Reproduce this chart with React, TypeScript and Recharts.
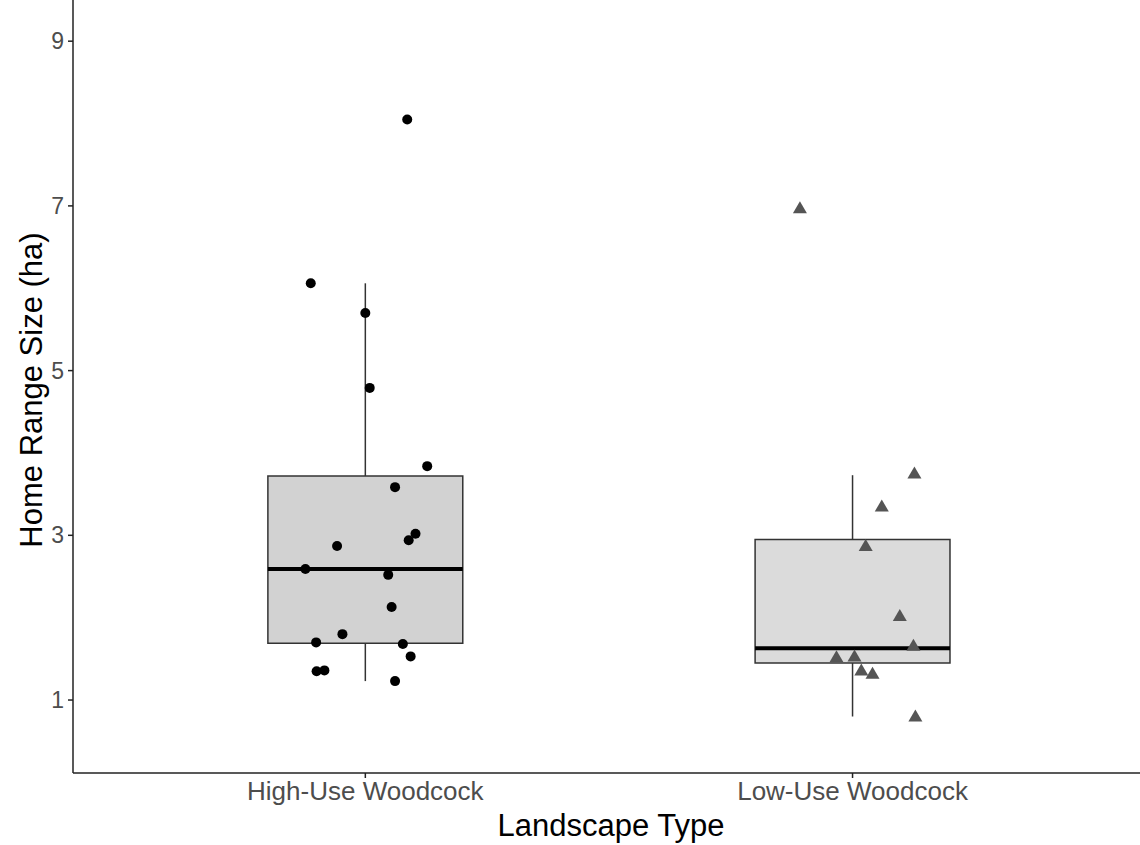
import React from "react"
import { ComposedChart, Scatter, XAxis, YAxis, ReferenceArea, ReferenceLine, Label } from "recharts"

// categories and tick labels
const categories = ["High-Use Woodcock", "Low-Use Woodcock"]
const yTicks = [1, 3, 5, 7, 9]

// jittered observations (x = category position + jitter, y = home range ha)
const highUseX = [1.086, 0.888, 1.0, 1.009, 1.127, 1.061, 1.103, 1.089, 0.942, 0.877, 1.047, 1.054, 0.953, 0.899, 1.077, 1.093, 0.9, 0.916, 1.061]
const highUseY = [8.05, 6.06, 5.7, 4.79, 3.84, 3.585, 3.02, 2.94, 2.87, 2.59, 2.52, 2.13, 1.8, 1.7, 1.68, 1.53, 1.35, 1.36, 1.23]
const lowUseX = [1.892, 2.127, 2.06, 2.027, 2.097, 2.125, 1.967, 2.004, 2.018, 2.041, 2.129]
const lowUseY = [6.97, 3.75, 3.35, 2.87, 2.02, 1.66, 1.52, 1.53, 1.36, 1.32, 0.8]

// boxplot stats per category
const boxQ1 = [1.69, 1.45]
const boxMedian = [2.59, 1.63]
const boxQ3 = [3.72, 2.95]
const whiskerLow = [1.23, 0.8]
const whiskerHigh = [6.06, 3.73]
const boxFill = ["#d2d2d2", "#dbdbdb"]
const boxHalf = 0.2

const highPts = highUseX.map((x, i) => ({ x, y: highUseY[i] }))
const lowPts = lowUseX.map((x, i) => ({ x, y: lowUseY[i] }))

const FONT = "'Liberation Sans', Arial, sans-serif"
const AXIS = "#222"
const BOX_LINE = "#333"

const Dot = (p: any) => <circle cx={p.cx} cy={p.cy} r={5} fill="#000" />
const Tri = (p: any) => (
  <polygon
    points={`${p.cx},${p.cy - 7} ${p.cx + 7},${p.cy + 5} ${p.cx - 7},${p.cy + 5}`}
    fill="#555"
  />
)

const XTick = ({ x, y, payload }: any) => (
  <text x={x} y={y + 22} textAnchor="middle" fontSize={26} fill="#4d4d4d" fontFamily={FONT}>
    {categories[payload.value - 1]}
  </text>
)

const YTick = ({ x, y, payload }: any) => (
  <text x={x} y={y + 8} textAnchor="end" fontSize={23} fill="#4d4d4d" fontFamily={FONT}>
    {payload.value}
  </text>
)

export default function App() {
  return (
    <div style={{ width: 1140, height: 845, background: "#fff" }}>
      <style>{`body{margin:0}`}</style>
      <ComposedChart width={1140} height={845} margin={{ top: 0, right: 0, bottom: 0, left: 0 }}>
        <XAxis
          type="number"
          dataKey="x"
          domain={[0.4, 2.59]}
          ticks={[1, 2]}
          allowDataOverflow
          height={72}
          tickSize={5}
          tickMargin={0}
          tick={<XTick />}
          stroke={AXIS}
          strokeWidth={1.5}
        >
          <Label
            content={() => (
              <text x={611} y={836} textAnchor="middle" fontSize={31} fill="#000" fontFamily={FONT}>
                Landscape Type
              </text>
            )}
          />
        </XAxis>
        <YAxis
          type="number"
          dataKey="y"
          domain={[0.114, 9.5]}
          ticks={yTicks}
          allowDataOverflow
          width={73}
          tickSize={5}
          tickMargin={4}
          tick={<YTick />}
          stroke={AXIS}
          strokeWidth={1.5}
        >
          <Label
            content={() => (
              <text
                x={42}
                y={390}
                transform="rotate(-90 42 390)"
                textAnchor="middle"
                fontSize={31}
                fill="#000"
                fontFamily={FONT}
              >
                Home Range Size (ha)
              </text>
            )}
          />
        </YAxis>

        {categories.map((c, i) => (
          <ReferenceLine
            key={`wl-${c}`}
            segment={[{ x: i + 1, y: whiskerLow[i] }, { x: i + 1, y: boxQ1[i] }]}
            stroke={BOX_LINE}
            strokeWidth={1.5}
          />
        ))}
        {categories.map((c, i) => (
          <ReferenceLine
            key={`wh-${c}`}
            segment={[{ x: i + 1, y: boxQ3[i] }, { x: i + 1, y: whiskerHigh[i] }]}
            stroke={BOX_LINE}
            strokeWidth={1.5}
          />
        ))}
        {categories.map((c, i) => (
          <ReferenceArea
            key={`box-${c}`}
            x1={i + 1 - boxHalf}
            x2={i + 1 + boxHalf}
            y1={boxQ1[i]}
            y2={boxQ3[i]}
            fill={boxFill[i]}
            fillOpacity={1}
            stroke={BOX_LINE}
            strokeWidth={1.5}
          />
        ))}
        {categories.map((c, i) => (
          <ReferenceLine
            key={`med-${c}`}
            segment={[{ x: i + 1 - boxHalf, y: boxMedian[i] }, { x: i + 1 + boxHalf, y: boxMedian[i] }]}
            stroke="#000"
            strokeWidth={4}
          />
        ))}

        <Scatter data={highPts} shape={Dot} isAnimationActive={false} />
        <Scatter data={lowPts} shape={Tri} isAnimationActive={false} />
      </ComposedChart>
    </div>
  )
}
